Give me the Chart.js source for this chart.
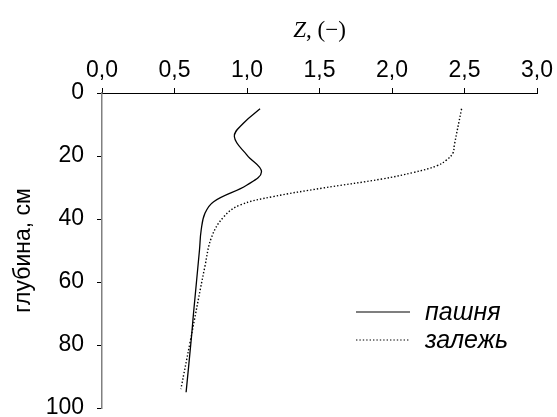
<!DOCTYPE html>
<html>
<head>
<meta charset="utf-8">
<script src="https://cdn.jsdelivr.net/npm/chart.js@4/dist/chart.umd.min.js"></script>
<style>
html,body{margin:0;padding:0;background:#fff;}
#wrap{width:557px;height:417px;}
</style>
</head>
<body>
<div id="wrap"><canvas id="profil"></canvas></div>
<script>
// глубина (см) и Z для пашни
const depthPashnya=[5,9.6,13.9,19.7,25,29.2,34.5,38.2,43.5,50,70,77,95];
const zPashnya=[1.09,0.975,0.913,1.0,1.10,1.0,0.77,0.71,0.684,0.672,0.631,0.618,0.58];

// глубина (см) и Z для залежи
const depthZalezh=[5,16.5,19.1,21.3,23.1,25.2,27.3,30.2,32.9,35.6,39.3,45.6,55,79,94];
const zZalezh=[2.48,2.43,2.42,2.375,2.31,2.15,1.93,1.52,1.18,0.95,0.84,0.757,0.71,0.608,0.544];

const xTicks=[0,0.5,1,1.5,2,2.5,3];
const yTicks=[0,20,40,60,80,100];
const seriesNames=["пашня","залежь"];

const pts=(d,z)=>d.map((v,i)=>({x:z[i],y:v}));

// подписи: заголовок оси X и легенда
const extras={
id:'extras',
afterDraw(chart){
const c=chart.ctx;
c.save();
c.fillStyle='#000';
c.textBaseline='alphabetic';
// Z, (−)
const f1='italic 23px "Liberation Serif"';
const f2='23px "Liberation Serif"';
c.font=f1;const w1=c.measureText('Z').width;
c.font=f2;const w2=c.measureText(', (\u2212)').width;
const cx=(chart.chartArea.left+chart.chartArea.right)/2;
let x0=cx-(w1+w2)/2;
c.font=f1;c.fillText('Z',x0,37);
c.font=f2;c.fillText(', (\u2212)',x0+w1,37);
// легенда
const ds=chart.data.datasets;
const rows=[312,340];
ds.forEach((d,i)=>{
c.beginPath();
c.strokeStyle='#000';
c.lineWidth=1.2;
c.setLineDash(d.borderDash||[]);
c.moveTo(356,rows[i]);c.lineTo(410,rows[i]);
c.stroke();
c.setLineDash([]);
c.font='italic 25px "Liberation Sans"';
c.fillText(d.label,425,rows[i]+8);
});
c.restore();
}
};

new Chart(document.getElementById('profil'),{
type:'line',
data:{
datasets:[{
label:seriesNames[0],
data:pts(depthPashnya,zPashnya),
borderColor:'#000',
borderWidth:1.3,
pointRadius:0,
tension:0.4,
fill:false
},{
label:seriesNames[1],
data:pts(depthZalezh,zZalezh),
borderColor:'#000',
borderWidth:1.4,
borderDash:[1.4,2],
pointRadius:0,
tension:0.4,
fill:false
}]
},
plugins:[extras],
options:{
responsive:true,
maintainAspectRatio:false,
animation:false,
layout:{padding:{left:0,right:20,top:0,bottom:9}},
plugins:{legend:{display:false},tooltip:{enabled:false}},
scales:{
x:{
type:'linear',
position:'top',
min:0,max:3,
afterBuildTicks(s){s.ticks=xTicks.map(v=>({value:v}));},
afterFit(s){s.height=93;s.paddingLeft=0;s.paddingRight=0;},
ticks:{
color:'#000',
font:{family:'"Liberation Sans"',size:23},
padding:4,
maxRotation:0,
callback:v=>v.toFixed(1).replace('.',',')
},
grid:{drawOnChartArea:false,tickLength:5,color:'#000',tickWidth:1},
border:{color:'#000',width:1}
},
y:{
type:'linear',
reverse:true,
min:0,max:100,
afterBuildTicks(s){s.ticks=yTicks.map(v=>({value:v}));},
afterFit(s){s.width=102;s.paddingTop=0;s.paddingBottom=0;},
ticks:{
color:'#000',
font:{family:'"Liberation Sans"',size:23},
padding:13
},
grid:{drawOnChartArea:false,tickLength:5,color:'#000',tickWidth:1},
border:{color:'#808080',width:1.5},
title:{
display:true,
text:'глубина, см',
color:'#000',
font:{family:'"Liberation Sans"',size:23},
padding:{top:10,bottom:0}
}
}
}
}
});
</script>
</body>
</html>
